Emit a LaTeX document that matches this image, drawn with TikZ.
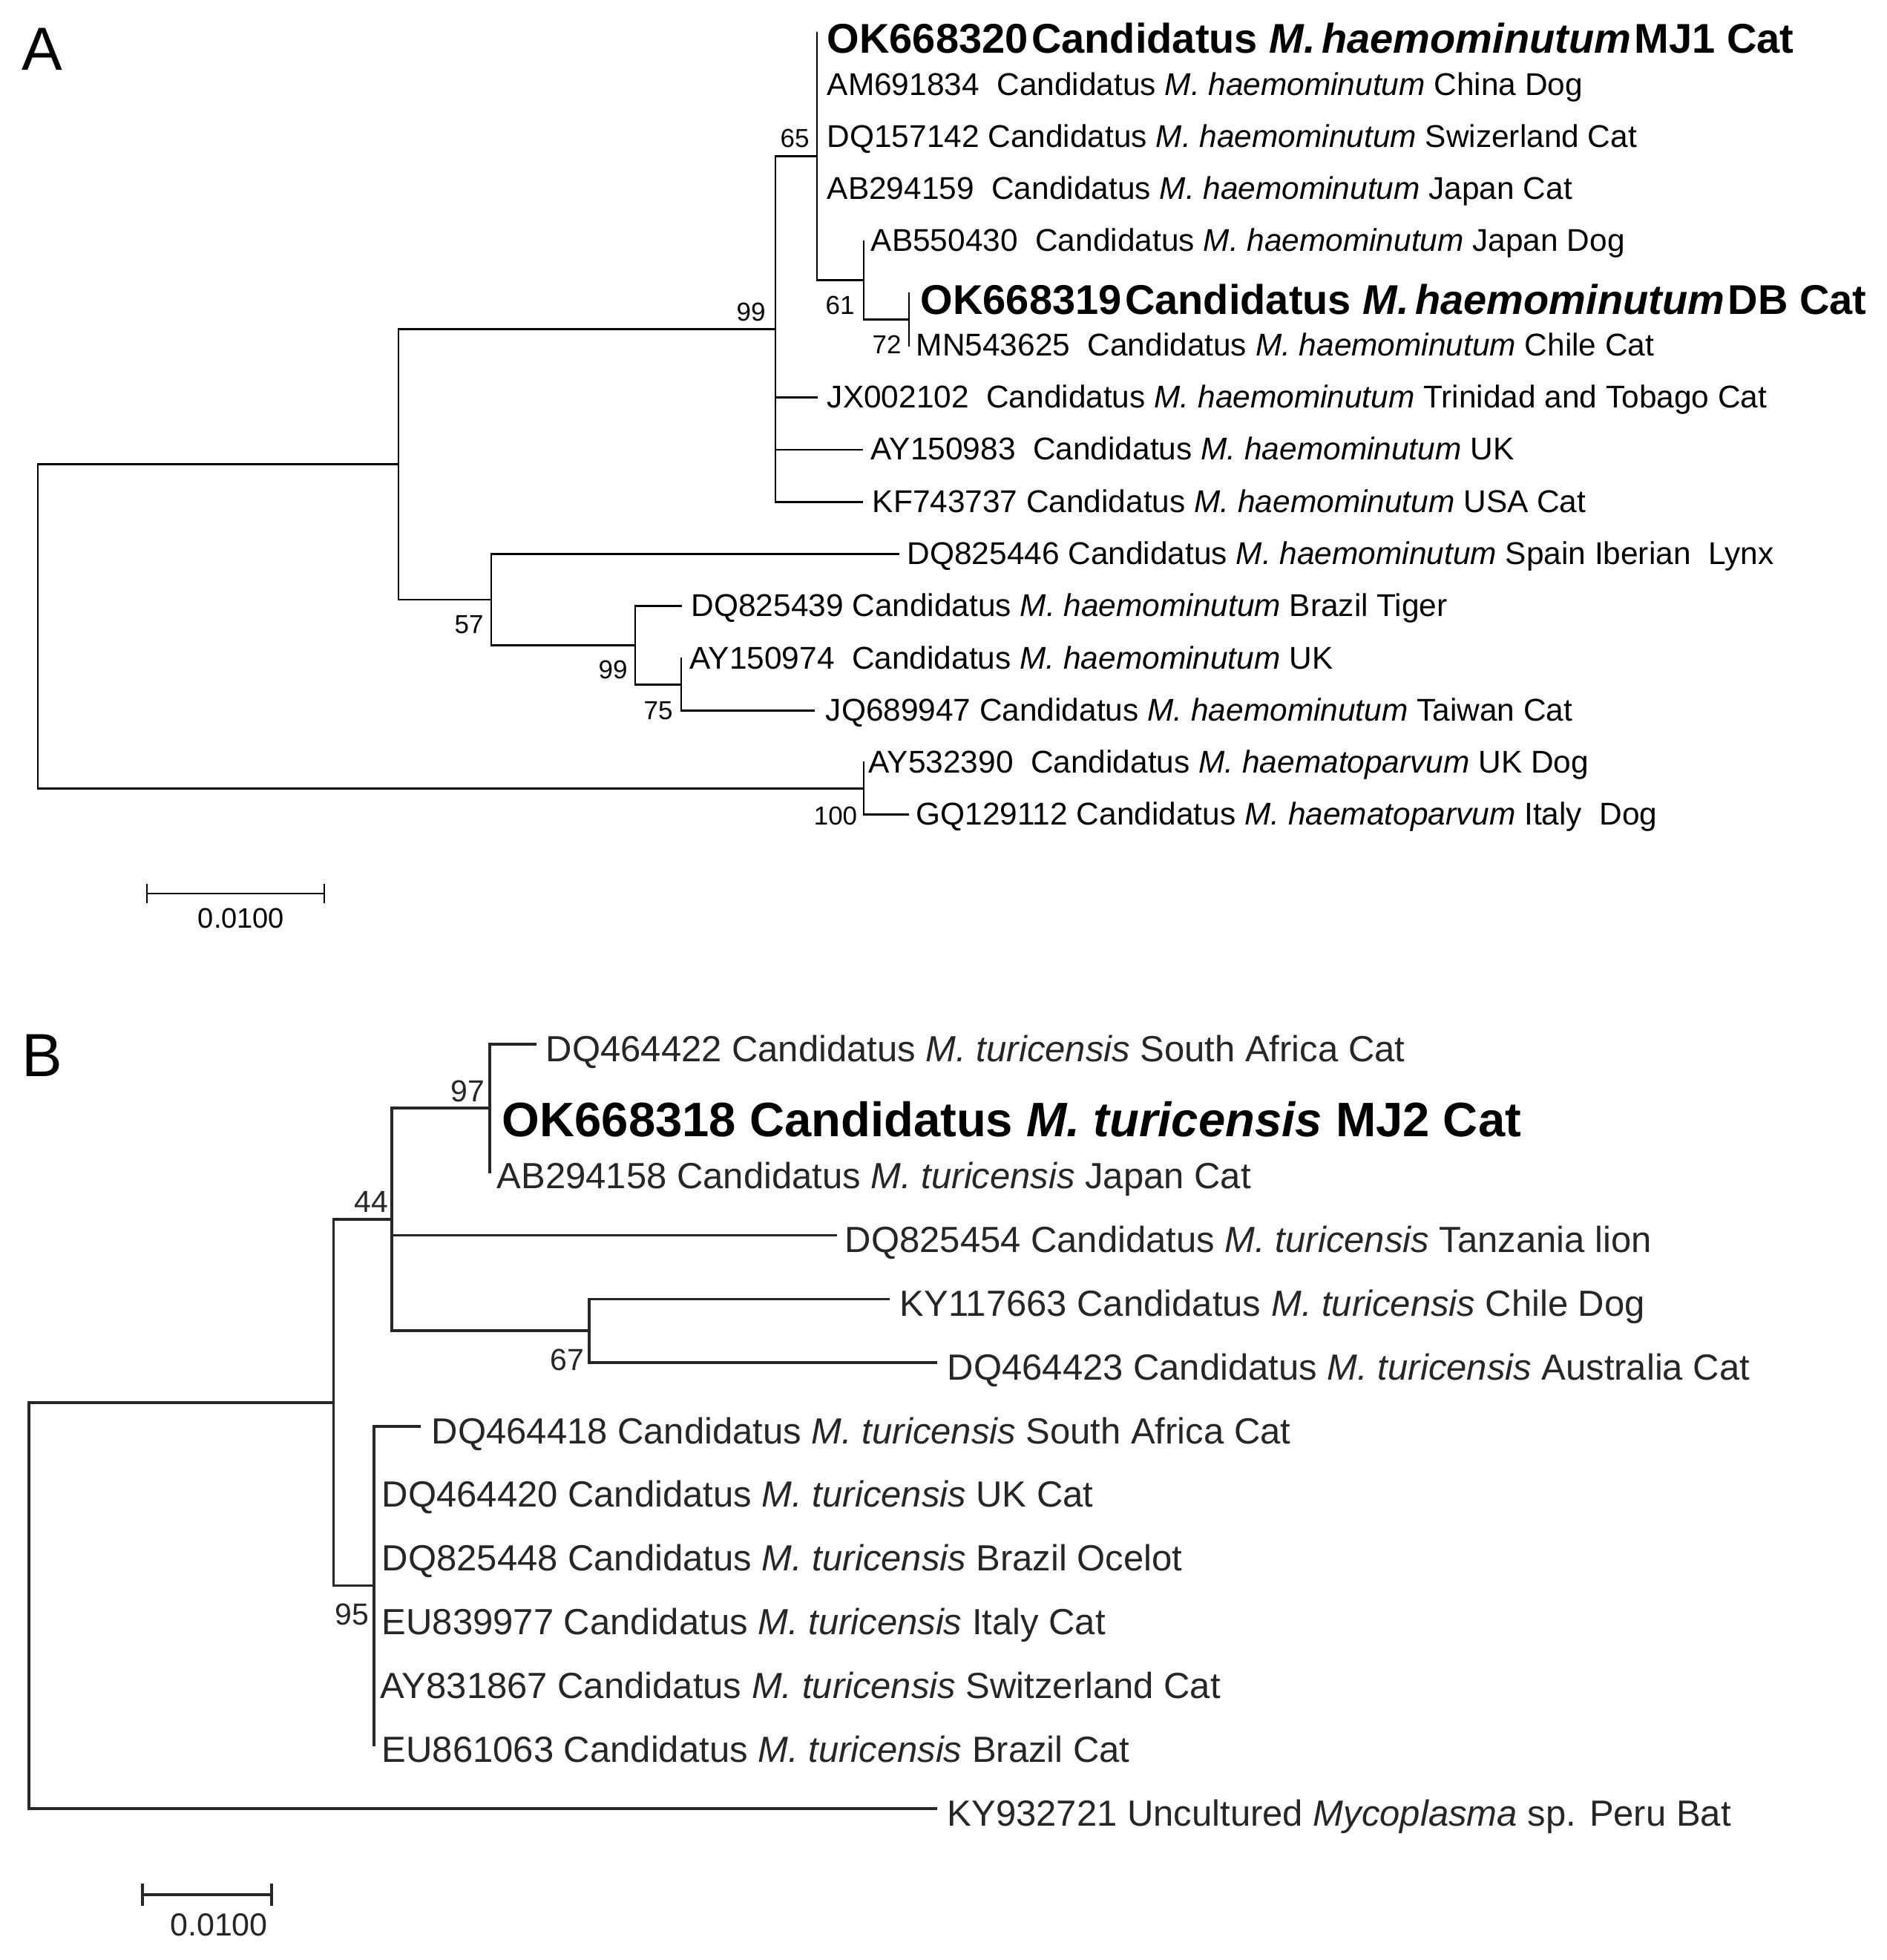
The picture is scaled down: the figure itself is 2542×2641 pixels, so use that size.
\documentclass[tikz,border=0pt]{standalone}
\usepackage{fontspec}
\setmainfont{Liberation Sans}
\newcommand{\mhae}{\textit{M. haemominutum}}
\newcommand{\mhpa}{\textit{M. haematoparvum}}
\newcommand{\mtur}{\textit{M. turicensis}}
\begin{document}
\begin{tikzpicture}[x=0.25pt,y=-0.25pt,
 brA/.style={line width=0.7pt, line cap=rect, line join=miter},
 brB/.style={line width=0.9pt, draw=black!85, line cap=rect, line join=miter},
 leafA/.style={anchor=base west, inner sep=0pt, font=\fontsize{10.6}{12}\selectfont},
 boldA/.style={anchor=base west, inner sep=0pt, font=\bfseries\fontsize{14}{16}\selectfont},
 leafB/.style={anchor=base west, inner sep=0pt, text=black!85, font=\fontsize{12.25}{14}\selectfont},
 boldB/.style={anchor=base west, inner sep=0pt, font=\bfseries\fontsize{16.3}{18}\selectfont},
 bsA/.style={inner sep=0pt, font=\fontsize{8.75}{10}\selectfont},
 bsB/.style={inner sep=0pt, text=black!85, font=\fontsize{10.25}{12}\selectfont},
 panel/.style={inner sep=0pt, font=\fontsize{20.5}{24}\selectfont},
 sclab/.style={inner sep=0pt},
]
\fill[white] (0,0) rectangle (2542,2641);
\useasboundingbox (0,0) rectangle (2542,2641);

% ================= Panel A =================
\node[panel] (labA) at (57,66) {A};

\coordinate (rA)   at (51,844.2);
\coordinate (n1)   at (537,625.75);
\coordinate (n99)  at (1045,443.55);
\coordinate (n65)  at (1101,210.85);
\coordinate (n61)  at (1164,377.7);
\coordinate (n72)  at (1225,430.4);
\coordinate (n57)  at (662,807.95);
\coordinate (n99b) at (856,869.4);
\coordinate (n75)  at (918,922.1);
\coordinate (n100) at (1164,1062.6);

\coordinate (t0)  at (1101,44);
\coordinate (t1)  at (1101,114.25);
\coordinate (t2)  at (1101,184.5);
\coordinate (t3)  at (1101,254.75);
\coordinate (t4)  at (1164,325);
\coordinate (t5)  at (1225,395.25);
\coordinate (t6)  at (1225,465.5);
\coordinate (t7)  at (1101,535.75);
\coordinate (t8)  at (1162,606);
\coordinate (t9)  at (1162,676.25);
\coordinate (t10) at (1211,746.5);
\coordinate (t11) at (918,816.75);
\coordinate (t12) at (918,887);
\coordinate (t13) at (1097,957.25);
\coordinate (t14) at (1164,1027.5);
\coordinate (t15) at (1224,1097.75);

\draw[brA] (rA) |- (n1);   \draw[brA] (rA) |- (n100);
\draw[brA] (n1) |- (n99);  \draw[brA] (n1) |- (n57);
\draw[brA] (n99) |- (n65); \draw[brA] (n99) |- (t7);
\draw[brA] (n99) |- (t8);  \draw[brA] (n99) |- (t9);
\draw[brA] (n65) |- (t0);  \draw[brA] (n65) |- (t1);
\draw[brA] (n65) |- (t2);  \draw[brA] (n65) |- (t3);
\draw[brA] (n65) |- (n61);
\draw[brA] (n61) |- (t4);  \draw[brA] (n61) |- (n72);
\draw[brA] (n72) |- (t5);  \draw[brA] (n72) |- (t6);
\draw[brA] (n57) |- (t10); \draw[brA] (n57) |- (n99b);
\draw[brA] (n99b) |- (t11); \draw[brA] (n99b) |- (n75);
\draw[brA] (n75) |- (t12); \draw[brA] (n75) |- (t13);
\draw[brA] (n100) |- (t14); \draw[brA] (n100) |- (t15);

\node[boldA] (L0)  at (1114,72)     {OK668320\hspace{.08em}Candidatus \textit{M.\hspace{.15em}haemominutum}\hspace{.08em}MJ1 Cat};
\node[leafA] (L1)  at (1114,128.25) {AM691834\ \ Candidatus \mhae{} China Dog};
\node[leafA] (L2)  at (1114,198.5)  {DQ157142 Candidatus \mhae{} Swizerland Cat};
\node[leafA] (L3)  at (1114,268.75) {AB294159\ \ Candidatus \mhae{} Japan Cat};
\node[leafA] (L4)  at (1173,339)    {AB550430\ \ Candidatus \mhae{} Japan Dog};
\node[boldA] (L5)  at (1240,423.25) {OK668319\hspace{.08em}Candidatus \textit{M.\hspace{.15em}haemominutum}\hspace{.08em}DB Cat};
\node[leafA] (L6)  at (1234,479.5)  {MN543625\ \ Candidatus \mhae{} Chile Cat};
\node[leafA] (L7)  at (1114,549.75) {JX002102\ \ Candidatus \mhae{} Trinidad and Tobago Cat};
\node[leafA] (L8)  at (1173,620)    {AY150983\ \ Candidatus \mhae{} UK};
\node[leafA] (L9)  at (1175,690.25) {KF743737 Candidatus \mhae{} USA Cat};
\node[leafA] (L10) at (1222,760.5)  {DQ825446 Candidatus \mhae{} Spain Iberian\ \ Lynx};
\node[leafA] (L11) at (931,830.75)  {DQ825439 Candidatus \mhae{} Brazil Tiger};
\node[leafA] (L12) at (929,901)     {AY150974\ \ Candidatus \mhae{} UK};
\node[leafA] (L13) at (1112,971.25) {JQ689947 Candidatus \mhae{} Taiwan Cat};
\node[leafA] (L14) at (1170,1041.5) {AY532390\ \ Candidatus \mhpa{} UK Dog};
\node[leafA] (L15) at (1234,1111.75){GQ129112 Candidatus \mhpa{} Italy\ \ Dog};

\node[bsA] (b65)  at (1071,186)  {65};
\node[bsA] (b99)  at (1012,420)  {99};
\node[bsA] (b61)  at (1132,411)  {61};
\node[bsA] (b72)  at (1195,464)  {72};
\node[bsA] (b57)  at (632,842)   {57};
\node[bsA] (b99b) at (826,902)   {99};
\node[bsA] (b75)  at (887,958)   {75};
\node[bsA] (b100) at (1126,1099) {100};

\coordinate (sa1) at (198,1204);
\coordinate (sa2) at (437,1204);
\draw[brA] (sa1) -- (sa2);
\draw[brA] ([yshift=-3pt]sa1) -- ([yshift=3pt]sa1);
\draw[brA] ([yshift=-3pt]sa2) -- ([yshift=3pt]sa2);
\node[sclab, font=\fontsize{9.5}{11}\selectfont] (sclA) at (325,1237) {0.0100};

% ================= Panel B =================
\node[panel] (labB) at (57,1422) {B};

\coordinate (rB)  at (39,2163.4);
\coordinate (m1)  at (449.5,1889.8);
\coordinate (m44) at (528,1643.05);
\coordinate (m97) at (660,1492.85);
\coordinate (m67) at (794,1793.25);
\coordinate (m95) at (504,2136.6);

\coordinate (u0)  at (721,1407);
\coordinate (u1)  at (660,1492.8);
\coordinate (u2)  at (660,1578.7);
\coordinate (u3)  at (1126,1664.5);
\coordinate (u4)  at (1197,1750.3);
\coordinate (u5)  at (1261,1836.2);
\coordinate (u6)  at (565,1922);
\coordinate (u7)  at (504,2007.8);
\coordinate (u8)  at (504,2093.7);
\coordinate (u9)  at (504,2179.5);
\coordinate (u10) at (504,2265.3);
\coordinate (u11) at (504,2351.2);
\coordinate (u12) at (1261,2437);

\draw[brB] (rB) |- (m1);   \draw[brB] (rB) |- (u12);
\draw[brB] (m1) |- (m44);  \draw[brB] (m1) |- (m95);
\draw[brB] (m44) |- (m97); \draw[brB] (m44) |- (u3);
\draw[brB] (m44) |- (m67);
\draw[brB] (m97) |- (u0);  \draw[brB] (m97) |- (u1);
\draw[brB] (m97) |- (u2);
\draw[brB] (m67) |- (u4);  \draw[brB] (m67) |- (u5);
\draw[brB] (m95) |- (u6);  \draw[brB] (m95) |- (u7);
\draw[brB] (m95) |- (u8);  \draw[brB] (m95) |- (u9);
\draw[brB] (m95) |- (u10); \draw[brB] (m95) |- (u11);

\node[leafB] (K0)  at (735,1430)    {DQ464422 Candidatus \mtur{} South Africa Cat};
\node[boldB] (K1)  at (676,1531.8)  {OK668318 Candidatus \mtur{} MJ2 Cat};
\node[leafB] (K2)  at (669,1601.7)  {AB294158 Candidatus \mtur{} Japan Cat};
\node[leafB] (K3)  at (1138,1687.5) {DQ825454 Candidatus \mtur{} Tanzania lion};
\node[leafB] (K4)  at (1212,1773.3) {KY117663 Candidatus \mtur{} Chile Dog};
\node[leafB] (K5)  at (1276,1859.2) {DQ464423 Candidatus \mtur{} Australia Cat};
\node[leafB] (K6)  at (581,1945)    {DQ464418 Candidatus \mtur{} South Africa Cat};
\node[leafB] (K7)  at (514,2030.8)  {DQ464420 Candidatus \mtur{} UK Cat};
\node[leafB] (K8)  at (514,2116.7)  {DQ825448 Candidatus \mtur{} Brazil Ocelot};
\node[leafB] (K9)  at (514,2202.5)  {EU839977 Candidatus \mtur{} Italy Cat};
\node[leafB] (K10) at (512,2288.3)  {AY831867 Candidatus \mtur{} Switzerland Cat};
\node[leafB] (K11) at (514,2374.2)  {EU861063 Candidatus \mtur{} Brazil Cat};
\node[leafB] (K12) at (1276,2460)   {KY932721 Uncultured \textit{Mycoplasma} sp. Peru Bat};

\node[bsB] (c97) at (630,1470) {97};
\node[bsB] (c44) at (500,1619) {44};
\node[bsB] (c67) at (764,1832) {67};
\node[bsB] (c95) at (474,2175) {95};

\coordinate (sb1) at (192,2553);
\coordinate (sb2) at (366,2553);
\draw[brB] (sb1) -- (sb2);
\draw[brB] ([yshift=-3.25pt]sb1) -- ([yshift=3.25pt]sb1);
\draw[brB] ([yshift=-3.25pt]sb2) -- ([yshift=3.25pt]sb2);
\node[sclab, text=black!85, font=\fontsize{10.75}{12}\selectfont] (sclB) at (295,2594) {0.0100};
\end{tikzpicture}
\end{document}
